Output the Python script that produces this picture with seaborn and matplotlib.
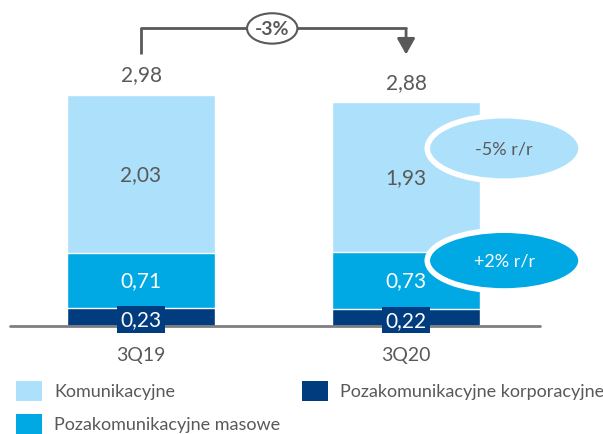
import matplotlib
matplotlib.use('Agg')
import matplotlib.pyplot as plt
import seaborn as sns
import pandas as pd
from matplotlib.patches import Ellipse, Rectangle

periods = ["3Q19", "3Q20"]
komunikacyjne = [2.03, 1.93]
masowe = [0.71, 0.73]
korporacyjne = [0.23, 0.22]
totals = [2.98, 2.88]
change_total = "-3%"
change_kom = "-5% r/r"
change_mas = "+2% r/r"

LIGHT = "#ade1fb"
MID = "#00a9e3"
DARK = "#003c7e"
GREY = "#595959"

sns.set_theme(style="white")
plt.rcParams['font.family'] = ['Lato', 'DejaVu Sans']

df = pd.DataFrame({
    "period": periods,
    "top": [a + b + c for a, b, c in zip(komunikacyjne, masowe, korporacyjne)],
    "mid": [b + c for b, c in zip(masowe, korporacyjne)],
    "low": korporacyjne,
})

fig = plt.figure(figsize=(6.03, 4.35), dpi=100)
ax = fig.add_axes([0, 0, 1, 1])

w = 0.558
sns.barplot(data=df, x="period", y="top", order=periods, color=LIGHT, width=w, ax=ax, saturation=1)
sns.barplot(data=df, x="period", y="mid", order=periods, color=MID, width=w, ax=ax, saturation=1)
sns.barplot(data=df, x="period", y="low", order=periods, color=DARK, width=w, ax=ax, saturation=1)

ax.set_xlim(-0.532, 1.743)
ax.set_ylim(-1.386, 4.198)
ax.axis('off')
ax.axhline(0, xmin=10 / 603, xmax=540 / 603, color="#7f7f7f", lw=2, zorder=5)

fmt = lambda v: f"{v:.2f}".replace(".", ",")
for i, p in enumerate(periods):
    k, m, c, t = komunikacyjne[i], masowe[i], korporacyjne[i], totals[i]
    ax.text(i, t + 0.25, fmt(t), ha="center", va="center", fontsize=15, color=GREY)
    ax.text(i, c + m + k / 2, fmt(k), ha="center", va="center", fontsize=15, color=GREY)
    ax.text(i, c + m / 2, fmt(m), ha="center", va="center", fontsize=15, color="white")
    ax.text(i, c / 2 - 0.03, fmt(c), ha="center", va="center", fontsize=15, color="white", zorder=6,
            bbox=dict(boxstyle="square,pad=0.15", fc=DARK, ec="none"))
    ax.text(i, -0.36, p, ha="center", va="center", fontsize=14, color=GREY)

# bracket arrow with total change
yb = 3.82
ax.plot([0.0, 0.0], [3.49, yb], color=GREY, lw=2, solid_capstyle="butt")
ax.plot([0.0, 1.0], [yb, yb], color=GREY, lw=2)
ax.annotate("", xy=(1.0, 3.45), xytext=(1.0, yb + 0.013),
            arrowprops=dict(arrowstyle="-|>,head_length=0.8,head_width=0.45", color=GREY, lw=2))
ax.add_patch(Ellipse((0.495, yb), 0.19, 0.39, fc="white", ec=GREY, lw=1.5, zorder=4))
ax.text(0.495, yb, change_total, ha="center", va="center", fontsize=14, fontweight="bold",
        color=GREY, zorder=5)

# change bubbles
ax.add_patch(Ellipse((1.37, 2.28), 0.58, 0.84, fc=LIGHT, ec="white", lw=4, zorder=4))
ax.text(1.37, 2.28, change_kom, ha="center", va="center", fontsize=13, color=GREY, zorder=5)
ax.add_patch(Ellipse((1.37, 0.84), 0.58, 0.78, fc=MID, ec="white", lw=4, zorder=4))
ax.text(1.37, 0.84, change_mas, ha="center", va="center", fontsize=13, color="white", zorder=5)

# legend
legend_items = [("Komunikacyjne", LIGHT, 16, 392), ("Pozakomunikacyjne korporacyjne", DARK, 302, 392),
                ("Pozakomunikacyjne masowe", MID, 16, 425)]
for label, col, px, py in legend_items:
    fig.patches.append(Rectangle((px / 603, 1 - (py + 10) / 435), 26 / 603, 20 / 435,
                                 transform=fig.transFigure, fc=col, ec="none"))
    fig.text((px + 38) / 603, 1 - py / 435, label, ha="left", va="center", fontsize=13, color=GREY)

fig.savefig("out.png", dpi=100)
